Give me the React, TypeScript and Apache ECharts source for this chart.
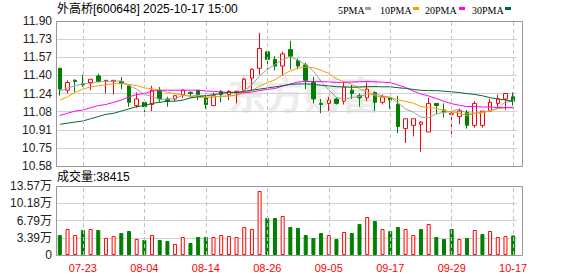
import React, { useEffect, useRef } from "react";
import * as echarts from "echarts";

const dates = ["07-18","07-21","07-22","07-23","07-24","07-25","07-28","07-29","07-30","07-31",
"08-01","08-04","08-05","08-06","08-07","08-08","08-11","08-12","08-13","08-14",
"08-15","08-18","08-19","08-20","08-21","08-22","08-25","08-26","08-27","08-28",
"08-29","09-01","09-02","09-03","09-04","09-05","09-08","09-09","09-10","09-11",
"09-12","09-15","09-16","09-17","09-18","09-19","09-22","09-23","09-24","09-25",
"09-26","09-29","09-30","10-09","10-10","10-13","10-14","10-15","10-16","10-17"];

const opens = [11.47,11.27,11.36,11.33,11.34,11.40,11.35,11.35,11.35,11.31,
11.13,11.16,11.14,11.27,11.19,11.19,11.23,11.25,11.27,11.20,
11.13,11.26,11.23,11.25,11.27,11.38,11.47,11.62,11.55,11.49,
11.64,11.54,11.50,11.34,11.15,11.15,11.19,11.17,11.27,11.22,
11.20,11.25,11.16,11.20,11.14,10.92,10.95,10.96,10.89,11.15,
11.09,11.05,11.03,11.07,10.95,10.95,11.08,11.15,11.19,11.21];

const closes = [11.28,11.34,11.35,11.32,11.37,11.35,11.36,11.36,11.33,11.16,
11.19,11.12,11.27,11.19,11.17,11.22,11.27,11.24,11.23,11.14,
11.22,11.23,11.26,11.26,11.37,11.46,11.65,11.55,11.49,11.60,
11.58,11.49,11.36,11.19,11.14,11.18,11.15,11.30,11.24,11.20,
11.28,11.16,11.21,11.18,10.94,11.01,11.01,10.98,11.15,11.13,
11.07,11.06,11.08,10.95,11.15,11.08,11.16,11.19,11.24,11.17];

const lows = [11.22,11.24,11.25,11.30,11.27,11.34,11.24,11.23,11.28,11.12,
11.11,11.07,11.08,11.16,11.12,11.17,11.20,11.20,11.18,11.10,
11.13,11.16,11.18,11.15,11.25,11.27,11.41,11.46,11.45,11.40,
11.46,11.46,11.28,11.15,11.06,11.08,11.14,11.14,11.19,11.12,
11.17,11.08,11.14,11.10,10.88,10.79,10.85,10.71,10.89,11.05,
11.02,10.87,10.96,10.92,10.93,10.93,11.08,11.11,11.09,11.13];

const highs = [11.47,11.36,11.37,11.41,11.37,11.42,11.36,11.36,11.39,11.32,
11.25,11.17,11.31,11.30,11.21,11.22,11.28,11.26,11.27,11.23,
11.25,11.27,11.27,11.26,11.38,11.47,11.79,11.62,11.58,11.62,
11.72,11.56,11.52,11.39,11.19,11.21,11.20,11.34,11.32,11.24,
11.34,11.26,11.23,11.21,11.22,11.01,11.01,10.99,11.20,11.15,
11.15,11.08,11.10,11.09,11.17,11.08,11.19,11.23,11.24,11.25];

const volumes = [39300,51100,39300,49200,51100,49200,33400,37400,43300,47200,
31500,29500,39300,29500,27500,21600,35400,23600,35400,35400,
35400,39300,37400,35400,55100,51100,125900,72800,72800,76700,
55100,53100,39300,33400,43300,39300,31500,45200,43300,61000,
74700,66900,51100,47200,55100,51100,39300,51100,61000,35400,
31500,51100,31500,33400,49200,41300,47200,35400,37400,38415];

const ma5 = [11.26,11.29,11.31,11.33,11.332,11.346,11.35,11.352,11.354,11.312,
11.28,11.232,11.214,11.186,11.188,11.194,11.224,11.216,11.224,11.218,
11.218,11.21,11.218,11.224,11.27,11.318,11.402,11.458,11.504,11.55,
11.574,11.542,11.504,11.444,11.352,11.272,11.204,11.192,11.202,11.214,
11.234,11.236,11.218,11.206,11.154,11.10,11.07,11.024,11.018,11.056,
11.068,11.078,11.098,11.058,11.062,11.064,11.084,11.106,11.164,11.168];

const ma10 = [11.18,11.21,11.25,11.28,11.30,11.31,11.32,11.33,11.33,11.322,
11.313,11.291,11.283,11.27,11.25,11.237,11.228,11.215,11.205,11.203,
11.206,11.217,11.217,11.224,11.244,11.268,11.306,11.338,11.364,11.41,
11.446,11.472,11.481,11.474,11.451,11.423,11.373,11.348,11.323,11.283,
11.253,11.22,11.205,11.204,11.184,11.167,11.153,11.121,11.112,11.105,
11.084,11.074,11.061,11.038,11.059,11.066,11.081,11.102,11.111,11.115];

const ma20 = [11.04,11.06,11.08,11.09,11.11,11.13,11.14,11.16,11.18,11.21,
11.23,11.24,11.26,11.27,11.27,11.27,11.27,11.27,11.27,11.263,
11.26,11.254,11.25,11.247,11.247,11.253,11.267,11.277,11.285,11.307,
11.326,11.345,11.349,11.349,11.348,11.346,11.34,11.343,11.344,11.347,
11.35,11.346,11.343,11.339,11.318,11.295,11.263,11.235,11.218,11.194,
11.169,11.147,11.133,11.121,11.122,11.117,11.117,11.112,11.112,11.11];

const ma30 = [10.96,10.97,10.98,10.99,11.01,11.03,11.05,11.06,11.08,11.10,
11.12,11.13,11.15,11.16,11.17,11.17,11.18,11.20,11.21,11.22,
11.23,11.24,11.25,11.25,11.26,11.27,11.28,11.29,11.30,11.312,
11.322,11.327,11.327,11.323,11.315,11.309,11.302,11.30,11.297,11.299,
11.302,11.303,11.301,11.301,11.293,11.286,11.277,11.269,11.266,11.266,
11.261,11.255,11.249,11.239,11.231,11.219,11.202,11.19,11.182,11.168];

const priceTickLabels = ["10.58","10.75","10.91","11.08","11.24","11.40","11.57","11.73","11.90"];
const volTickLabels = ["0","3.39万","6.79万","10.18万","13.57万"];
const labelDates = ["07-23","08-04","08-14","08-26","09-05","09-17","09-29","10-17"];
const maNames = ["5PMA","10PMA","20PMA","30PMA"];
const maColors = ["#a0a0a0","#f5a000","#ff00ff","#006b2f"];
const titleText = "外高桥[600648] 2025-10-17 15:00";
const volTitle = "成交量:38415";

const PRICE_MIN = 10.58;
const PRICE_MAX = 11.9;
const PRICE_STEP = 0.165;
const VOL_MAX = 135700;
const VOL_STEP = 33925;

const UP = "#ff0000";
const DOWN = "#008000";
const SANS = "'Liberation Sans', Arial, 'Noto Sans CJK SC', sans-serif";

export default function App() {
  const ref = useRef<HTMLDivElement>(null);
  useEffect(() => {
    const chart = echarts.init(ref.current!, null, { renderer: "svg" });
    const candleData = dates.map((_, i) => [opens[i], closes[i], lows[i], highs[i]]);
    const volData = volumes.map((v, i) => {
      const up = i === 0 ? closes[i] >= opens[i] : closes[i] >= closes[i - 1];
      return {
        value: v,
        itemStyle: up
          ? { color: "#ffffff", borderColor: UP, borderWidth: 1 }
          : { color: DOWN, borderColor: DOWN, borderWidth: 1 },
      };
    });
    const vline = {
      silent: true,
      symbol: ["none", "none"],
      label: { show: false },
      emphasis: { disabled: true },
      lineStyle: { type: [4, 3], color: "#c4c4c4", width: 1 },
      data: labelDates.map((d) => ({ xAxis: d })),
    };
    const mas = [ma5, ma10, ma20, ma30];

    const legendItems: any[] = [];
    const legendX = [338, 380, 425, 472];
    const swatchX = [365, 413, 459, 505];
    maNames.forEach((n, k) => {
      legendItems.push({
        type: "text", x: legendX[k], y: 10,
        style: { text: n, fill: "#000", font: "10px 'Liberation Serif', serif", verticalAlign: "middle" },
      });
      legendItems.push({
        type: "rect", shape: { x: swatchX[k], y: 7, width: 6, height: 3 },
        style: { fill: maColors[k] },
      });
    });

    chart.setOption({
      animation: false,
      backgroundColor: "#ffffff",
      grid: [
        { left: 56, top: 21, width: 461, height: 145, show: false },
        { left: 56, top: 186, width: 461, height: 69, show: false },
      ],
      xAxis: [
        {
          type: "category", gridIndex: 0, data: dates, boundaryGap: true,
          axisLine: { show: false }, axisTick: { show: false }, axisLabel: { show: false },
          splitLine: { show: false },
        },
        {
          type: "category", gridIndex: 1, data: dates, boundaryGap: true,
          axisLine: { show: false }, axisTick: { show: false },
          axisLabel: {
            interval: (idx: number) => labelDates.includes(dates[idx]),
            color: UP, fontSize: 11, fontFamily: SANS, margin: 7,
          },
          splitLine: { show: false },
        },
      ],
      yAxis: [
        {
          type: "value", gridIndex: 0, min: PRICE_MIN, max: PRICE_MAX, interval: PRICE_STEP,
          axisLine: { show: false }, axisTick: { show: false },
          axisLabel: {
            formatter: (v: number) => priceTickLabels[Math.round((v - PRICE_MIN) / PRICE_STEP)] ?? "",
            color: "#222", fontSize: 12, fontFamily: SANS, margin: 4,
          },
          splitLine: { show: true, lineStyle: { color: "#d2d2d2", width: 1 } },
        },
        {
          type: "value", gridIndex: 1, min: 0, max: VOL_MAX, interval: VOL_STEP,
          axisLine: { show: false }, axisTick: { show: false },
          axisLabel: {
            formatter: (v: number) => volTickLabels[Math.round(v / VOL_STEP)] ?? "",
            color: "#222", fontSize: 12, fontFamily: SANS, margin: 4,
          },
          splitLine: { show: true, lineStyle: { color: "#d2d2d2", width: 1 } },
        },
      ],
      series: [
        {
          type: "candlestick", xAxisIndex: 0, yAxisIndex: 0, data: candleData, barWidth: 4,
          itemStyle: { color: "#ffffff", color0: DOWN, borderColor: UP, borderColor0: DOWN, borderWidth: 1 },
          markLine: vline,
        },
        ...mas.map((m, k) => ({
          type: "line", name: maNames[k], xAxisIndex: 0, yAxisIndex: 0, data: m,
          symbol: "none", lineStyle: { color: maColors[k], width: 1 }, z: 3,
        })),
        {
          type: "bar", xAxisIndex: 1, yAxisIndex: 1, data: volData, barWidth: 4,
          markLine: vline,
        },
      ],
      graphic: [
        {
          type: "text", x: 228, y: 92, z: -1, silent: true,
          style: { text: "东方财富", fill: "#ececec", font: "bold 38px 'Noto Sans CJK SC', sans-serif", verticalAlign: "middle" },
        },
        {
          type: "text", x: 57, y: 9,
          style: { text: titleText, fill: "#000", font: "12px " + SANS, verticalAlign: "middle" },
        },
        ...legendItems,
        {
          type: "text", x: 57, y: 177,
          style: { text: volTitle, fill: "#000", font: "12px " + SANS, verticalAlign: "middle" },
        },
        {
          type: "rect", shape: { x: 56.5, y: 21.5, width: 466, height: 145 },
          style: { fill: "none", stroke: "#999", lineWidth: 1 }, z: 10,
        },
        {
          type: "rect", shape: { x: 56.5, y: 186.5, width: 466, height: 69 },
          style: { fill: "none", stroke: "#999", lineWidth: 1 }, z: 10,
        },
      ],
    });
    return () => chart.dispose();
  }, []);
  return <div ref={ref} style={{ position: "absolute", left: 0, top: 0, width: 578, height: 276 }} />;
}
